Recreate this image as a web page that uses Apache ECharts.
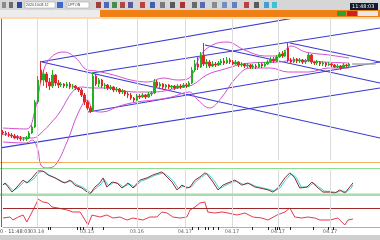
<!DOCTYPE html>
<html><head><meta charset="utf-8">
<script src="https://cdn.jsdelivr.net/npm/echarts@6/dist/echarts.min.js"></script>
<style>html,body{margin:0;padding:0;background:#fff}#c{width:380px;height:240px}</style>
</head><body><div id="c"></div>
<script>
// OHLC candles [open, close, low, high]
const candles = [
[28,27,25,30],[27,26,24,29],[26,25,23,28],[25,24,22,27],[24,22,21,26],[23,22,20,25],[22,21,19,24],[21,21,19,23],[21,22,19,24],[22,27,21,29],
[27,33,26,35],[33,58,32,60],[58,80,56,84],[90,80,77,99],[80,86,74,90],[86,78,72,88],[78,74,70,82],[74,85,72,90],[85,77,74,86],[77,75,72,80],
[75,76,73,78],[76,74,72,77],[74,76,72,78],[76,73,71,78],[73,74,71,76],[74,72,70,75],[72,70,68,73],[70,65,63,72],[65,58,55,67],[58,52,50,60],
[52,49,47,54],[50,84,48,88],[84,76,74,86],[76,80,73,82],[80,74,72,81],[74,75,71,77],[75,72,70,76],[72,73,70,75],[73,70,68,74],[70,71,68,73],
[71,68,66,72],[68,69,66,71],[69,66,64,70],[66,65,62,68],[65,62,60,67],[62,60,58,63],[60,64,59,66],[64,63,61,66],[63,65,62,67],[65,63,61,66],
[63,66,62,68],[66,67,64,69],[67,78,66,81],[78,74,72,80],[74,76,72,78],[76,73,71,77],[73,75,71,76],[75,73,71,76],[73,74,71,75],[74,72,70,75],
[72,74,71,76],[74,73,71,76],[73,75,72,77],[75,74,72,77],[74,77,73,79],[77,90,76,93],[90,96,88,100],[96,93,90,104],[93,104,92,108],[105,96,94,117],
[96,98,92,101],[98,94,92,100],[94,96,93,99],[96,95,93,98],[95,97,94,99],[97,99,95,101],[99,97,95,102],[97,100,96,103],[100,98,96,102],[98,96,95,100],
[96,98,95,100],[98,95,93,99],[95,96,93,98],[96,94,92,97],[94,95,92,97],[95,93,91,96],[93,94,91,96],[94,93,91,96],[93,96,92,98],[96,94,92,97],
[94,96,93,98],[96,98,95,100],[98,101,97,103],[101,99,97,103],[99,103,98,105],[103,106,102,108],[106,104,102,109],[104,108,103,110],[112,100,98,118],[100,98,96,102],
[98,101,97,103],[101,99,97,102],[99,100,97,102],[100,98,96,101],[98,99,96,101],[99,105,98,107],[105,98,96,106],[98,97,95,99],[97,98,95,100],[98,96,94,99],
[96,97,94,99],[97,95,93,98],[95,96,94,98],[96,95,93,97],[95,93,92,96],[93,94,92,96],[94,92,90,95],[92,95,91,97],[95,94,92,96],[94,96,93,97]
];
// Bollinger bands [bar, price]
const bbUpper = [[0,32],[8,31],[11,50],[14,90],[17,104],[21,108],[25,102],[29,90],[32,89],[38,85],[44,80],[50,78],[55,82],[60,80],[64,82],[68,105],[72,115],[77,118],[83,110],[90,104],[95,104],[99,114],[104,108],[112,105],[119,102]];
const bbMiddle = [[0,26],[10,22],[12,24],[18,42],[27,73],[31,72],[35,72],[45,68],[52,68],[60,72],[65,75],[70,85],[75,90],[85,97],[95,98],[100,100],[110,98],[119,97]];
const bbLower = [[0,18],[8,17],[10,20],[12,10],[13,-5],[15,-8],[18,-5],[22,18],[26,48],[29,60],[31,50],[34,48],[40,54],[46,58],[52,60],[58,63],[64,68],[67,60],[71,52],[75,62],[80,82],[85,92],[92,92],[98,88],[105,88],[112,92],[119,92]];
// trend lines [[bar, price],[bar, price]]
const trendLines = [
 [[12.7,98],[102.1,143]],
 [[30.6,87],[129.6,132]],
 [[29.2,48],[129.6,98]],
 [[-1,12],[129.6,72]],
 [[13.4,98],[129.6,22]],
 [[69.4,115],[129.6,77]],
 [[98.6,117],[129.6,98]]
];
const lastPrice = 96;
// stochastic %K and %D [bar, value]
const stochK = [[0,37],[0.7,46],[3.1,8],[4.8,29],[6.9,58],[8.2,46],[10,67],[12,96],[13.7,96],[15.5,79],[17.9,67],[20.3,50],[21.3,46],[23,58],[24.7,37],[27.1,25],[29.9,0],[31.6,29],[33.3,46],[34.4,67],[35.7,29],[37.5,50],[39.2,46],[40.9,25],[43,46],[44.7,25],[47.1,58],[49.5,67],[51.5,79],[54.6,92],[55.7,79],[58.1,50],[59.8,17],[61.5,37],[63.2,25],[64.3,29],[66,58],[67.7,71],[69.4,88],[70.1,83],[72.2,50],[73.9,17],[75.6,37],[77.3,46],[79.7,58],[82.1,37],[84.2,46],[86.6,29],[88.3,25],[91.1,17],[92.8,8],[94.5,25],[96.9,67],[98.6,88],[100.3,67],[102,25],[104.5,29],[106.2,50],[107.9,29],[110,8],[112.4,8],[114.1,4],[115.8,17],[117.5,4],[119.2,29],[120.3,46]];
const stochD = [[0,40],[1.2,42],[3.5,14],[5.3,27],[7.3,52],[8.7,48],[10.5,62],[12.5,92],[14.2,94],[16,78],[18.4,65],[20.8,50],[21.8,48],[23.5,55],[25.2,40],[27.6,27],[30.3,4],[32,25],[33.8,42],[34.9,60],[36.2,35],[38,47],[39.7,44],[41.4,29],[43.5,42],[45.2,29],[47.6,54],[50,65],[52,77],[55.1,88],[56.2,80],[58.6,54],[60.3,22],[62,33],[63.7,27],[64.8,30],[66.5,54],[68.2,69],[69.9,85],[70.6,82],[72.7,54],[74.4,22],[76.1,33],[77.8,44],[80.2,54],[82.6,40],[84.7,44],[87.1,31],[88.8,27],[91.6,19],[93.3,12],[95,23],[97.4,62],[99.1,84],[100.8,69],[102.5,29],[105,29],[106.7,46],[108.4,31],[110.5,12],[112.9,10],[114.6,6],[116.3,14],[118,8],[119.7,25],[120.3,38]];
// lower oscillator [bar, value]
const osc = [[0,9],[2.4,10],[3.4,7],[5.2,10],[6.9,12],[8.2,5],[10,15],[11.7,25],[12,28],[13.7,25],[15.5,24],[16.8,20],[18.9,19],[22,17],[24,15],[26.5,15],[28.2,7],[29.2,2],[30.6,12],[33.3,10],[35.7,12],[37.8,9],[40.2,10],[42.6,7],[44.7,9],[48.1,7],[50.5,10],[52.9,10],[54.6,15],[56.4,14],[58.4,10],[60.8,9],[63.2,10],[64.3,17],[66,20],[67.7,24],[69.4,25],[70.4,15],[72.8,14],[75.3,15],[77.3,14],[80.4,12],[83.2,14],[85.9,10],[89,9],[91.1,7],[94.2,12],[96.9,15],[98.6,19],[100.3,10],[102.7,9],[104.8,10],[107.2,9],[108.9,7],[112.4,7],[115.1,9],[117.5,2],[118.6,7],[120.3,8]];
const oscLevel = 19;
// time grid
const gridBars = [11.7,28.9,46,62.5,78.7,94.5,112.4];
const gridLabels = ["03.14","03.15","03.16","04.17","04.17","04.17","04.17"];
const tickMarks = [15.5,16.2,25.4,26.5,27.5,30.6,34.4,65,67,69.4,70.4,72.2,73.9,85.6,91.1,93.5,94.2,94.8,98.6,106.5,111.7,113.4];

const chart = echarts.init(document.getElementById('c'), null, {renderer:'canvas'});
const XMAX = 129.6;
function vlines(){return {silent:true,symbol:'none',label:{show:false},lineStyle:{color:'#dcdcdc',width:1,type:'solid'},data:gridBars.map(v=>({xAxis:v}))};}
const xBase = {type:'value',min:0,max:XMAX,axisLine:{show:false},axisTick:{show:false},axisLabel:{show:false},splitLine:{show:false}};
const yBase = {type:'value',axisLine:{show:false},axisTick:{show:false},axisLabel:{show:false},splitLine:{show:false}};
const series = [];
series.push({type:'line',xAxisIndex:0,yAxisIndex:0,data:[],markLine:vlines(),silent:true});
trendLines.forEach(seg=>series.push({type:'line',xAxisIndex:0,yAxisIndex:0,data:seg,symbol:'none',lineStyle:{color:'#3a3ad0',width:1.2},silent:true,z:3}));
[bbUpper,bbMiddle,bbLower].forEach(b=>series.push({type:'line',xAxisIndex:0,yAxisIndex:0,data:b,smooth:0.4,symbol:'none',clip:false,lineStyle:{color:'#d24fd2',width:1},silent:true,z:4}));
series.push({type:'candlestick',xAxisIndex:0,yAxisIndex:0,data:candles.map((c,i)=>[i].concat(c)),encode:{x:0,y:[1,2,3,4]},barWidth:2,
 itemStyle:{color:'#22b022',color0:'#e02828',borderColor:'#22b022',borderColor0:'#e02828',borderWidth:1},z:5});
series.push({type:'line',xAxisIndex:0,yAxisIndex:0,data:[[candles.length,lastPrice],[XMAX-1.5,lastPrice]],symbol:'none',lineStyle:{color:'#a8a8a8',width:1.5},silent:true});
series.push({type:'line',xAxisIndex:1,yAxisIndex:1,data:[],markLine:vlines(),silent:true});
series.push({type:'line',xAxisIndex:1,yAxisIndex:1,data:stochD,symbol:'none',lineStyle:{color:'#40d0c8',width:1},silent:true});
series.push({type:'line',xAxisIndex:1,yAxisIndex:1,data:stochK,symbol:'none',lineStyle:{color:'#8a2a3a',width:1},silent:true});
series.push({type:'line',xAxisIndex:2,yAxisIndex:2,data:osc,symbol:'none',lineStyle:{color:'#e8384a',width:1},silent:true,
 markLine:{silent:true,symbol:'none',label:{show:false},data:[{yAxis:oscLevel,lineStyle:{color:'#a02828',width:1.2,type:'solid'}}].concat(gridBars.map(v=>({xAxis:v,lineStyle:{color:'#dcdcdc',width:1,type:'solid'}})))}});

const option = {
 animation:false,
 backgroundColor:'#ffffff',
 grid:[{left:3,right:0,top:18,height:142},{left:3,right:0,top:170,height:24},{left:3,right:0,top:196,height:31}],
 xAxis:[Object.assign({gridIndex:0},xBase),Object.assign({gridIndex:1},xBase),
  Object.assign({gridIndex:2},xBase,{axisLine:{show:true,lineStyle:{color:'#b0b0b0'}},
   axisTick:{show:true,inside:false,length:3,customValues:tickMarks,lineStyle:{color:'#222'}},
   axisLabel:{show:true,customValues:gridBars,formatter:v=>{const k=gridBars.indexOf(v);return k>=0?gridLabels[k]:'';},fontSize:5,color:'#666',margin:2,fontFamily:'DejaVu Sans'}})],
 yAxis:[Object.assign({gridIndex:0,min:0,max:142},yBase),Object.assign({gridIndex:1,min:0,max:100},yBase),Object.assign({gridIndex:2,min:0,max:31},yBase)],
 series:series,
 graphic:[
  {type:'rect',shape:{x:0,y:0,width:380,height:10},style:{fill:'#d6d6d6'},z:10},
  {type:'rect',shape:{x:0,y:10,width:100,height:7},style:{fill:'#ececec'},z:10},
  {type:'rect',shape:{x:100,y:10,width:280,height:7},style:{fill:'#f07f14'},z:10},
  {type:'rect',shape:{x:0,y:17,width:380,height:2},style:{fill:'#ffd8b0'},z:10},
  {type:'rect',shape:{x:25,y:2,width:30,height:6},style:{fill:'#fff',stroke:'#999',lineWidth:0.5},z:11},
  {type:'rect',shape:{x:67,y:2,width:22,height:6},style:{fill:'#fff',stroke:'#999',lineWidth:0.5},z:11},
  {type:'text',x:26,y:3,style:{text:'2024.10.08 12',fontSize:3.5,fill:'#333'},z:12},
  {type:'text',x:68,y:3,style:{text:'UPTON',fontSize:3.5,fill:'#333'},z:12},
  {type:'rect',shape:{x:17,y:2,width:5,height:6},style:{fill:'#2a4aa0'},z:11},
  {type:'rect',shape:{x:57,y:2,width:6,height:6},style:{fill:'#3a6ad0'},z:11},
  {type:'rect',shape:{x:2,y:2,width:4,height:6},style:{fill:'#8a8a8a'},z:11},
  {type:'rect',shape:{x:9,y:2,width:4,height:6},style:{fill:'#6a6a6a'},z:11},
  {type:'rect',shape:{x:96,y:2,width:5,height:6},style:{fill:'#a04040'},z:11},
  {type:'rect',shape:{x:104,y:2,width:5,height:6},style:{fill:'#4a6ac0'},z:11},
  {type:'rect',shape:{x:112,y:2,width:5,height:6},style:{fill:'#4a8a4a'},z:11},
  {type:'rect',shape:{x:120,y:2,width:5,height:6},style:{fill:'#b04848'},z:11},
  {type:'rect',shape:{x:128,y:2,width:5,height:6},style:{fill:'#5a5a9a'},z:11},
  {type:'rect',shape:{x:140,y:2,width:5,height:6},style:{fill:'#c04040'},z:11},
  {type:'rect',shape:{x:150,y:2,width:5,height:6},style:{fill:'#4060b0'},z:11},
  {type:'rect',shape:{x:160,y:2,width:5,height:6},style:{fill:'#7a7a7a'},z:11},
  {type:'rect',shape:{x:170,y:2,width:5,height:6},style:{fill:'#5a5a5a'},z:11},
  {type:'rect',shape:{x:180,y:2,width:5,height:6},style:{fill:'#b03030'},z:11},
  {type:'rect',shape:{x:192,y:2,width:5,height:6},style:{fill:'#6a6a6a'},z:11},
  {type:'rect',shape:{x:200,y:2,width:5,height:6},style:{fill:'#5a6ab0'},z:11},
  {type:'rect',shape:{x:212,y:2,width:5,height:6},style:{fill:'#8a8a8a'},z:11},
  {type:'rect',shape:{x:222,y:2,width:5,height:6},style:{fill:'#7090c0'},z:11},
  {type:'rect',shape:{x:232,y:2,width:5,height:6},style:{fill:'#6080c0'},z:11},
  {type:'rect',shape:{x:244,y:2,width:5,height:6},style:{fill:'#c04040'},z:11},
  {type:'rect',shape:{x:254,y:2,width:5,height:6},style:{fill:'#5a5a5a'},z:11},
  {type:'rect',shape:{x:264,y:2,width:5,height:6},style:{fill:'#40a0d0'},z:11},
  {type:'rect',shape:{x:272,y:2,width:5,height:6},style:{fill:'#40c0d0'},z:11},
  {type:'rect',shape:{x:350,y:3,width:28,height:7},style:{fill:'#101a30'},z:12},
  {type:'text',x:352,y:4,style:{text:'11:48:03',fontSize:5,fill:'#fff',fontFamily:'DejaVu Sans'},z:13},
  {type:'rect',shape:{x:337,y:11,width:9,height:5},style:{fill:'#30a030'},z:12},
  {type:'rect',shape:{x:347,y:11,width:10,height:5},style:{fill:'#d02020'},z:12},
  {type:'rect',shape:{x:358,y:11,width:20,height:5},style:{fill:'#e8e8e8'},z:12},
  {type:'line',shape:{x1:0,y1:162.5,x2:380,y2:162.5},style:{stroke:'#f4b060',lineWidth:1},z:6},
  {type:'line',shape:{x1:0,y1:168.5,x2:380,y2:168.5},style:{stroke:'#90dd90',lineWidth:1},z:6},
  {type:'rect',shape:{x:0,y:193.5,width:380,height:2.5},style:{fill:'#a8dca8'},z:6},
  {type:'line',shape:{x1:1.5,y1:18,x2:1.5,y2:227},style:{stroke:'#a040c0',lineWidth:1},z:6},
  {type:'text',x:0,y:229,style:{text:'0 - 11:48:03',fontSize:5,fill:'#444',fontFamily:'DejaVu Sans'},z:12},
  {type:'rect',shape:{x:0,y:235,width:380,height:5},style:{fill:'#cfcfcf'},z:10}
 ]
};
chart.setOption(option);
</script></body></html>
